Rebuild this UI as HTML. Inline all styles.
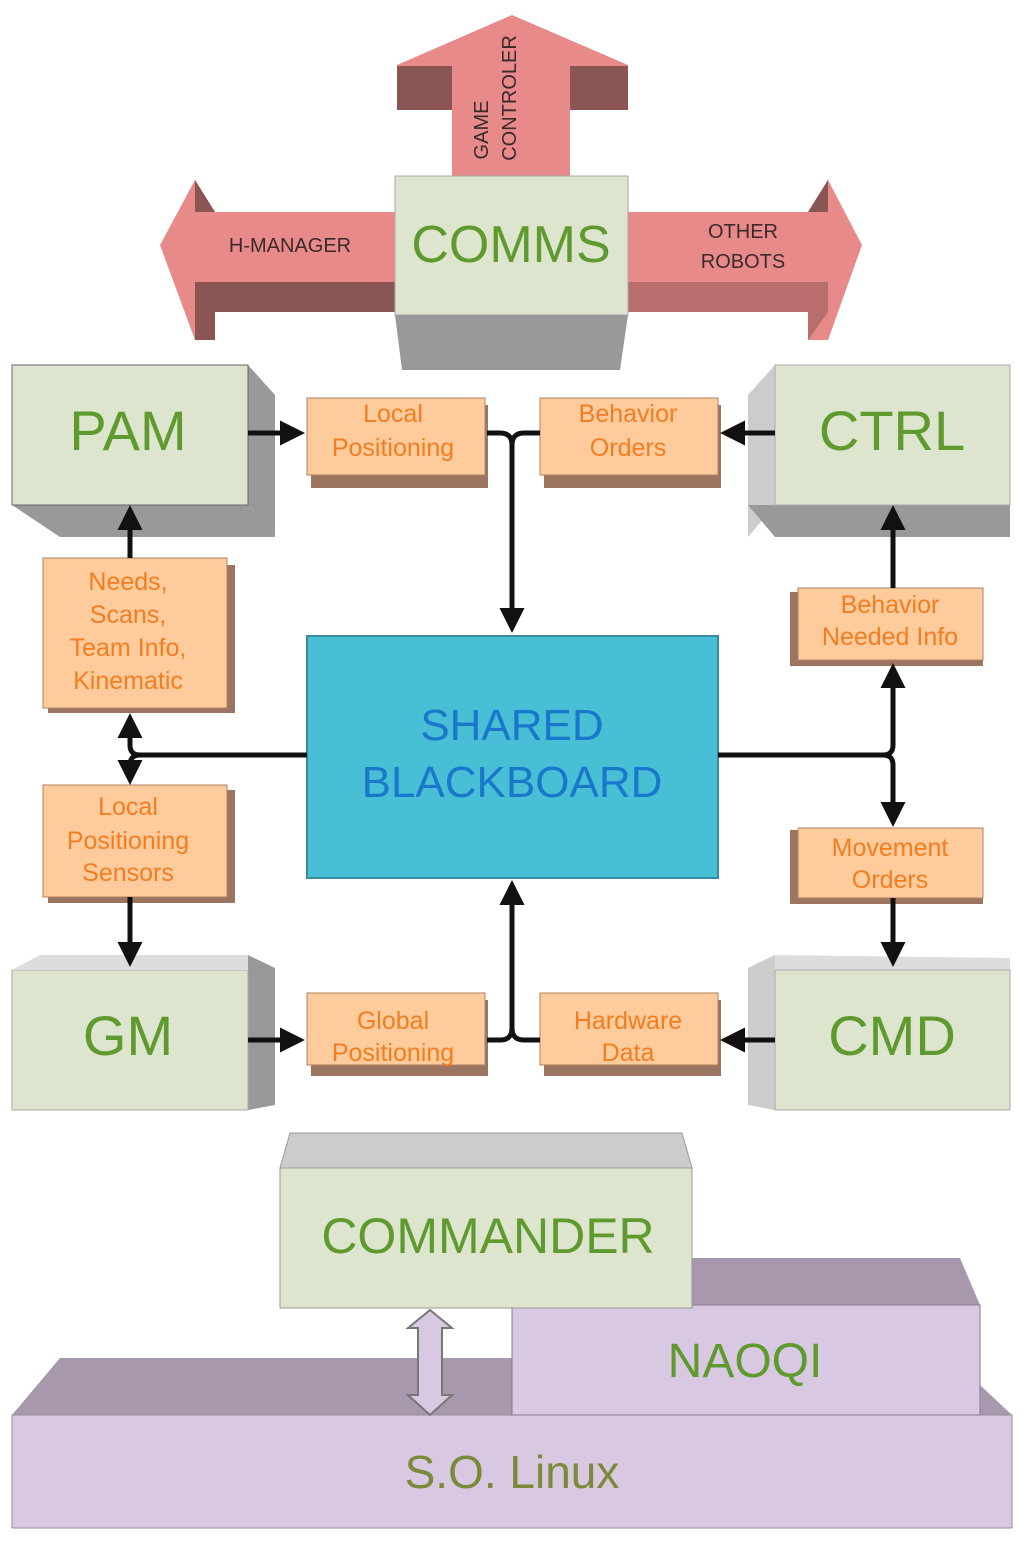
<!DOCTYPE html>
<html><head><meta charset="utf-8"><style>
html,body{margin:0;padding:0;background:#fff;width:1024px;height:1541px;overflow:hidden}
svg{display:block}
text{font-family:"Liberation Sans",sans-serif}
.g{fill:#5f9a2e}
.o{fill:#f47d20;font-size:25px}
</style></head><body>
<svg width="1024" height="1541" viewBox="0 0 1024 1541" xmlns="http://www.w3.org/2000/svg">
<defs>
<marker id="a" markerWidth="5" markerHeight="5" refX="4" refY="2.5" orient="auto" markerUnits="strokeWidth"><path d="M0,0 L5,2.5 L0,5 z" fill="#111"/></marker>
</defs>
<!-- up arrow -->
<polygon points="512,15 628,65 628,110 570,110 570,178 452,178 452,110 397,110 397,65" fill="#e88a8a"/>
<rect x="397" y="66" width="55" height="44" fill="#8a5552"/>
<rect x="570" y="66" width="58" height="44" fill="#8a5552"/>
<rect x="452" y="66" width="118" height="112" fill="#e88a8a"/>
<text transform="translate(488,130) rotate(-90)" font-size="20" fill="#3a2a2a" text-anchor="middle">GAME</text>
<text transform="translate(516,98) rotate(-90)" font-size="20" fill="#3a2a2a" text-anchor="middle">CONTROLER</text>
<!-- left arrow -->
<polygon points="160,245 195,180 215,212 395,212 395,312 215,312 215,340 195,340" fill="#e88a8a"/>
<polygon points="195,282 395,282 395,312 215,312 215,340 195,340" fill="#8a5552"/>
<polygon points="195,180 215,212 195,212" fill="#8a5552"/>
<text x="290" y="252" font-size="20" fill="#3a2a2a" text-anchor="middle">H-MANAGER</text>
<!-- right arrow -->
<polygon points="862,245 828,180 808,212 628,212 628,312 808,312 808,340 828,340" fill="#e88a8a"/>
<polygon points="628,282 828,282 828,312 808,340 808,312 628,312" fill="#b86e6c"/>
<polygon points="828,180 808,212 828,212" fill="#8a5552"/>
<text x="743" y="238" font-size="20" fill="#3a2a2a" text-anchor="middle">OTHER</text>
<text x="743" y="268" font-size="20" fill="#3a2a2a" text-anchor="middle">ROBOTS</text>
<!-- COMMS -->
<rect x="395" y="176" width="233" height="139" fill="#dde5cf" stroke="#aaa"/>
<polygon points="395,315 628,315 620,370 402,370" fill="#999"/>
<text x="511" y="262" font-size="52" class="g" text-anchor="middle">COMMS</text>

<!-- PAM -->
<polygon points="248,365 275,395 275,537 248,505" fill="#999"/>
<polygon points="12,505 248,505 275,537 60,537" fill="#999"/>
<rect x="12" y="365" width="236" height="140" fill="#dde5cf" stroke="#666"/>
<text x="128" y="450" font-size="56" class="g" text-anchor="middle">PAM</text>
<!-- CTRL -->
<polygon points="775,365 748,395 748,537 775,505" fill="#ccc"/>
<polygon points="748,505 1010,505 1010,537 775,537" fill="#999"/>
<rect x="775" y="365" width="235" height="140" fill="#dde5cf" stroke="#aaa"/>
<text x="892" y="450" font-size="56" class="g" text-anchor="middle">CTRL</text>
<!-- GM -->
<polygon points="248,955 275,968 275,1105 248,1110" fill="#999"/>
<rect x="12" y="970" width="236" height="140" fill="#dde5cf" stroke="#aaa"/>
<polygon points="12,970 248,970 248,955 40,955" fill="#ddd"/>
<text x="128" y="1055" font-size="56" class="g" text-anchor="middle">GM</text>
<!-- CMD -->
<polygon points="775,955 748,968 748,1105 775,1110" fill="#ccc"/>
<polygon points="775,970 1010,970 1010,958 775,955" fill="#ddd"/>
<rect x="775" y="970" width="235" height="140" fill="#dde5cf" stroke="#aaa"/>
<text x="892" y="1055" font-size="56" class="g" text-anchor="middle">CMD</text>

<!-- orange boxes -->
<g>
<rect x="311" y="405" width="177" height="83" fill="#9c7560"/>
<rect x="307" y="398" width="178" height="77" fill="#fdcb9c" stroke="#b08060"/>
<text x="393" y="422" class="o" text-anchor="middle">Local</text>
<text x="393" y="456" class="o" text-anchor="middle">Positioning</text>
<rect x="544" y="405" width="177" height="83" fill="#9c7560"/>
<rect x="540" y="398" width="178" height="77" fill="#fdcb9c" stroke="#b08060"/>
<text x="628" y="422" class="o" text-anchor="middle">Behavior</text>
<text x="628" y="456" class="o" text-anchor="middle">Orders</text>

<rect x="48" y="565" width="187" height="148" fill="#9c7560"/>
<rect x="43" y="558" width="184" height="150" fill="#fdcb9c" stroke="#b08060"/>
<text x="128" y="590" class="o" text-anchor="middle">Needs,</text>
<text x="128" y="623" class="o" text-anchor="middle">Scans,</text>
<text x="128" y="656" class="o" text-anchor="middle">Team Info,</text>
<text x="128" y="689" class="o" text-anchor="middle">Kinematic</text>

<rect x="48" y="790" width="187" height="113" fill="#9c7560"/>
<rect x="43" y="785" width="184" height="112" fill="#fdcb9c" stroke="#b08060"/>
<text x="128" y="815" class="o" text-anchor="middle">Local</text>
<text x="128" y="849" class="o" text-anchor="middle">Positioning</text>
<text x="128" y="881" class="o" text-anchor="middle">Sensors</text>

<rect x="790" y="592" width="193" height="74" fill="#9c7560"/>
<rect x="798" y="588" width="185" height="72" fill="#fdcb9c" stroke="#b08060"/>
<text x="890" y="613" class="o" text-anchor="middle">Behavior</text>
<text x="890" y="645" class="o" text-anchor="middle">Needed Info</text>

<rect x="790" y="830" width="193" height="74" fill="#9c7560"/>
<rect x="798" y="828" width="185" height="70" fill="#fdcb9c" stroke="#b08060"/>
<text x="890" y="856" class="o" text-anchor="middle">Movement</text>
<text x="890" y="888" class="o" text-anchor="middle">Orders</text>

<rect x="311" y="1000" width="177" height="76" fill="#9c7560"/>
<rect x="307" y="993" width="178" height="72" fill="#fdcb9c" stroke="#b08060"/>
<text x="393" y="1029" class="o" text-anchor="middle">Global</text>
<text x="393" y="1061" class="o" text-anchor="middle">Positioning</text>
<rect x="544" y="1000" width="177" height="76" fill="#9c7560"/>
<rect x="540" y="993" width="178" height="72" fill="#fdcb9c" stroke="#b08060"/>
<text x="628" y="1029" class="o" text-anchor="middle">Hardware</text>
<text x="628" y="1061" class="o" text-anchor="middle">Data</text>
</g>

<!-- blackboard -->
<rect x="307" y="636" width="411" height="242" fill="#48bfd5" stroke="#3a8aa0" stroke-width="2"/>
<text x="512" y="740" font-size="44" fill="#1a78cc" text-anchor="middle">SHARED</text>
<text x="512" y="797" font-size="44" fill="#1a78cc" text-anchor="middle">BLACKBOARD</text>

<!-- connectors -->
<g stroke="#111" stroke-width="5" fill="none">
<line x1="248" y1="433" x2="300" y2="433" marker-end="url(#a)"/>
<line x1="775" y1="433" x2="725" y2="433" marker-end="url(#a)"/>
<path d="M487,433 L500,433 Q512,433 512,445 Q512,433 524,433 L540,433"/>
<line x1="512" y1="445" x2="512" y2="628" marker-end="url(#a)"/>
<line x1="307" y1="755" x2="140" y2="755"/>
<path d="M140,755 Q130,755 130,745 L130,718" marker-end="url(#a)"/>
<path d="M140,755 Q130,755 130,765 L130,780" marker-end="url(#a)"/>
<line x1="130" y1="558" x2="130" y2="510" marker-end="url(#a)"/>
<line x1="130" y1="897" x2="130" y2="962" marker-end="url(#a)"/>
<line x1="718" y1="755" x2="883" y2="755"/>
<path d="M883,755 Q893,755 893,745 L893,668" marker-end="url(#a)"/>
<path d="M883,755 Q893,755 893,765 L893,822" marker-end="url(#a)"/>
<line x1="893" y1="588" x2="893" y2="510" marker-end="url(#a)"/>
<line x1="893" y1="898" x2="893" y2="962" marker-end="url(#a)"/>
<line x1="248" y1="1040" x2="300" y2="1040" marker-end="url(#a)"/>
<line x1="775" y1="1040" x2="725" y2="1040" marker-end="url(#a)"/>
<path d="M487,1040 L500,1040 Q512,1040 512,1028 Q512,1040 524,1040 L540,1040"/>
<line x1="512" y1="1028" x2="512" y2="885" marker-end="url(#a)"/>
</g>

<!-- bottom stack -->
<polygon points="12,1415 60,1358 512,1358 512,1415" fill="#a898ae"/>
<polygon points="980,1385 1012,1415 980,1415" fill="#a898ae"/>
<rect x="12" y="1415" width="1000" height="113" fill="#d9c8e2" stroke="#9a8aa0"/>
<text x="512" y="1488" font-size="46" fill="#7a8a3a" text-anchor="middle">S.O. Linux</text>
<polygon points="692,1258 960,1258 980,1305 692,1305" fill="#a898ae"/>
<rect x="512" y="1305" width="468" height="110" fill="#d9c8e2" stroke="#8a7a90"/>
<text x="745" y="1377" font-size="48" class="g" text-anchor="middle">NAOQI</text>
<polygon points="290,1133 682,1133 692,1168 280,1168" fill="#ccc" stroke="#999"/>
<rect x="280" y="1168" width="412" height="140" fill="#dde5cf" stroke="#999"/>
<text x="488" y="1253" font-size="50" class="g" text-anchor="middle">COMMANDER</text>
<polygon points="430,1310 452,1328 442,1328 442,1395 452,1395 430,1415 408,1395 418,1395 418,1328 408,1328" fill="#d9c8e2" stroke="#777" stroke-width="2"/>
</svg>
</body></html>
